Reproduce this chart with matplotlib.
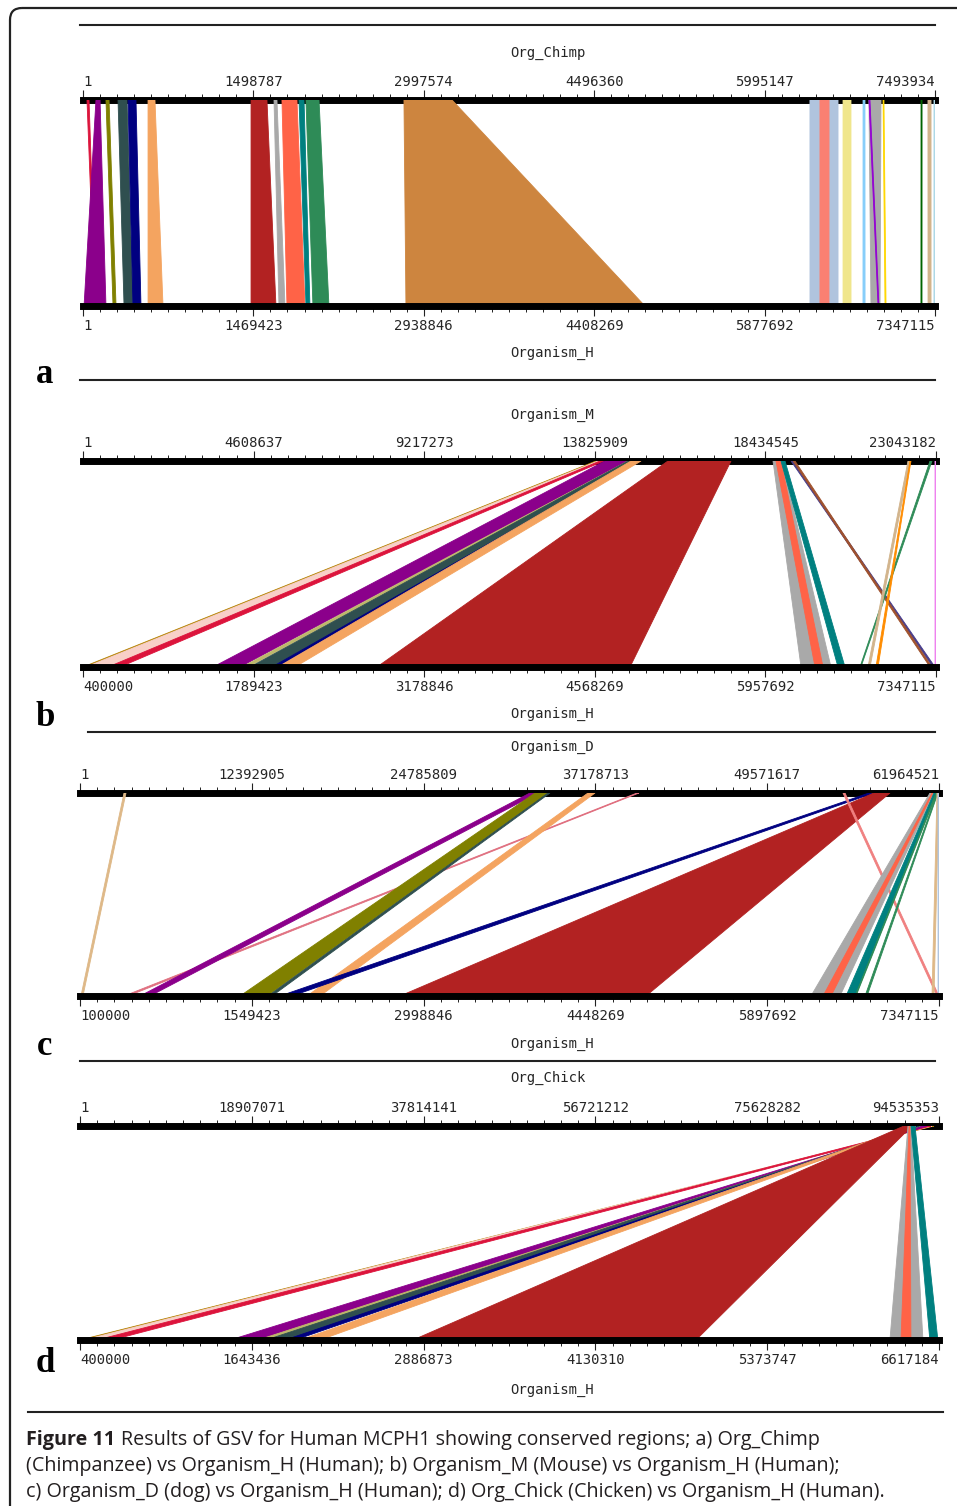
import numpy as np
import matplotlib
matplotlib.use("Agg")
import matplotlib.pyplot as plt
from matplotlib.patches import FancyBboxPatch

# Tick labels of the two sequence rulers (top organism / Organism_H)
a_top_labels = ['1', '1498787', '2997574', '4496360', '5995147', '7493934']
a_bot_labels = ['1', '1469423', '2938846', '4408269', '5877692', '7347115']
b_top_labels = ['1', '4608637', '9217273', '13825909', '18434545', '23043182']
b_bot_labels = ['400000', '1789423', '3178846', '4568269', '5957692', '7347115']
c_top_labels = ['1', '12392905', '24785809', '37178713', '49571617', '61964521']
c_bot_labels = ['100000', '1549423', '2998846', '4448269', '5897692', '7347115']
d_top_labels = ['1', '18907071', '37814141', '56721212', '75628282', '94535353']
d_bot_labels = ['400000', '1643436', '2886873', '4130310', '5373747', '6617184']

# conserved regions, positions in kb: top start/end, Organism_H start/end
a_top_s = [35, 114, 202, 308, 396, 572, 1478, 1680, 1750, 1900, 1961, 2823, 6394, 6482, 6685, 6861, 6913, 6913, 7037, 7371, 7432, 7485]
a_top_e = [53, 150, 229, 387, 466, 633, 1618, 1706, 1882, 1944, 2076, 3246, 6641, 6562, 6755, 6878, 7019, 6922, 7045, 7380, 7459, 7494]
a_bot_s = [103, 9, 259, 354, 431, 561, 1449, 1690, 1759, 1923, 1983, 2785, 6269, 6355, 6554, 6726, 6795, 6856, 6916, 7226, 7287, 7338]
a_bot_e = [112, 198, 285, 431, 500, 690, 1664, 1742, 1914, 1957, 2121, 4846, 6511, 6433, 6623, 6744, 6873, 6864, 6925, 7235, 7313, 7347]
a_colors = ['crimson', 'darkmagenta', 'olive', 'darkslategray', 'navy', 'sandybrown', 'firebrick',
            'darkgray', 'tomato', 'teal', 'seagreen', 'peru', 'lightsteelblue', 'salmon', 'khaki',
            'lightskyblue', 'darkgray', 'darkviolet', 'gold', 'darkgreen', 'tan', 'lightblue']

b_top_s = [13858, 13912, 13966, 14101, 14723, 14723, 14885, 14804, 15803, 18640, 18721, 18856, 19126, 19180, 22881, 22286, 22340, 23016]
b_top_e = [13966, 13993, 14074, 14723, 14777, 14939, 14939, 15074, 17505, 18883, 18856, 18964, 19180, 19234, 22935, 22340, 22367, 23043]
b_bot_s = [400, 424, 604, 1459, 1695, 1760, 1939, 1988, 2794, 6248, 6362, 6549, 7322, 7298, 6728, 6793, 6858, 7339]
b_bot_e = [424, 604, 701, 1679, 1744, 1939, 1980, 2127, 4855, 6492, 6427, 6606, 7339, 7314, 6736, 6810, 6875, 7347]
b_colors = ['darkgoldenrod', '#f8d0c8', 'crimson', 'darkmagenta', 'darkkhaki', 'darkslategray', 'navy',
            'sandybrown', 'firebrick', 'darkgray', 'tomato', 'teal', 'darkslateblue', 'sienna',
            'seagreen', 'tan', 'darkorange', 'violet']

c_top_s = [3174, 40179, 32460, 32821, 33759, 36645, 56914, 57275, 55039, 61315, 61459, 61603, 61748, 61820, 61820, 61892]
c_top_e = [3318, 40323, 33040, 33759, 33903, 37150, 57275, 58429, 55183, 61603, 61531, 61748, 61820, 61892, 61964, 61964]
c_bot_s = [108, 471, 606, 1450, 1686, 2015, 1787, 2800, 7330, 6267, 6369, 6563, 6639, 6723, 7288, 7339]
c_bot_e = [125, 505, 691, 1678, 1720, 2125, 1889, 4875, 7347, 6512, 6436, 6639, 6647, 6740, 7305, 7347]
c_colors = ['burlywood', '#e07080', 'darkmagenta', 'olive', 'darkslategray', 'sandybrown', 'navy',
            'firebrick', 'lightcoral', 'darkgray', 'tomato', 'teal', 'seagreen', 'seagreen',
            'burlywood', 'lightsteelblue']

d_top_s = [93765, 93545, 93325, 92445, 92334, 92004, 91894, 91564, 90684, 91124, 91234, 91454]
d_top_e = [93985, 93765, 93655, 93215, 92445, 92445, 92114, 92004, 91564, 91454, 91344, 91894]
d_bot_s = [400, 429, 523, 1486, 1688, 1746, 1884, 1992, 2810, 6262, 6342, 6551]
d_bot_e = [429, 523, 632, 1688, 1746, 1905, 1956, 2137, 4858, 6501, 6414, 6609]
d_colors = ['darkgoldenrod', '#f8d0c8', 'crimson', 'darkmagenta', 'darkkhaki', 'darkslategray', 'navy',
            'sandybrown', 'firebrick', 'darkgray', 'tomato', 'teal']

top_names = ['Org_Chimp', 'Organism_M', 'Organism_D', 'Org_Chick']
letters = ['a', 'b', 'c', 'd']

W, H = 957, 1506
plt.rcParams['font.family'] = ['DejaVu Sans Mono']
fig = plt.figure(figsize=(W / 100, H / 100), dpi=100)
fig.patch.set_facecolor('white')

# background axes in pixel units for frame and separator rules
bg = fig.add_axes([0, 0, 1, 1])
bg.set_xlim(0, W)
bg.set_ylim(H, 0)
bg.axis('off')
bg.add_patch(FancyBboxPatch((10, 8), 1000, 1560, boxstyle='round,pad=0,rounding_size=12',
                            fc='none', ec='#222222', lw=1.6))
for y, xa, xb in [(25, 80, 935), (380, 80, 935), (732, 88, 935), (1061, 80, 935), (1412, 28, 943)]:
    bg.plot([xa, xb], [y, y], color='#222222', lw=1.5)

# panel layout in pixels: x left, x right, top bar y, bottom bar y
layout = [(83, 935, 100, 306), (83, 936, 461, 667), (80, 939, 793, 996), (80, 939, 1126, 1340)]
name_y = [(53, 353), (415, 714), (747, 1044), (1078, 1390)]
letter_y = [383, 726, 1055, 1372]

panels = [
    (a_top_labels, a_bot_labels, a_top_s, a_top_e, a_bot_s, a_bot_e, a_colors),
    (b_top_labels, b_bot_labels, b_top_s, b_top_e, b_bot_s, b_bot_e, b_colors),
    (c_top_labels, c_bot_labels, c_top_s, c_top_e, c_bot_s, c_bot_e, c_colors),
    (d_top_labels, d_bot_labels, d_top_s, d_top_e, d_bot_s, d_bot_e, d_colors),
]

bar_lw = 5.0
lab_size = 10
txt_col = '#262626'
for i, (tl, bl, ts, te, bs, be, cols) in enumerate(panels):
    x0, x1, yt, yb = layout[i]
    ax = fig.add_axes([x0 / W, 1 - yb / H, (x1 - x0) / W, (yb - yt) / H])
    ax.set_facecolor('none')
    t_lo, t_hi = int(tl[0]), int(tl[-1])
    b_lo, b_hi = int(bl[0]), int(bl[-1])

    def b2t(v, t_lo=t_lo, t_hi=t_hi, b_lo=b_lo, b_hi=b_hi):
        return t_lo + (np.asarray(v, float) - b_lo) / (b_hi - b_lo) * (t_hi - t_lo)

    def t2b(v, t_lo=t_lo, t_hi=t_hi, b_lo=b_lo, b_hi=b_hi):
        return b_lo + (np.asarray(v, float) - t_lo) / (t_hi - t_lo) * (b_hi - b_lo)

    ax.set_xlim(b_lo, b_hi)
    ax.set_ylim(0, 1)

    # links between the two sequences
    for s1, e1, s2, e2, c in zip(ts, te, bs, be, cols):
        xs = [t2b(s1 * 1000), t2b(e1 * 1000), e2 * 1000, s2 * 1000]
        ax.fill(xs, [1, 1, 0, 0], color=c, lw=0.6, ec=c, zorder=2)

    for sp in ['left', 'right', 'top']:
        ax.spines[sp].set_visible(False)
    ax.spines['bottom'].set_linewidth(bar_lw)
    ax.spines['bottom'].set_zorder(5)
    ax.yaxis.set_visible(False)
    ax.set_xticks([int(v) for v in bl], labels=bl)
    ax.set_xticks(np.linspace(b_lo, b_hi, 51), minor=True)
    ax.tick_params(axis='x', which='major', direction='out', length=7.0, width=0.8,
                   pad=2.5, labelsize=lab_size, color='#222222', labelcolor=txt_col)
    ax.tick_params(axis='x', which='minor', direction='out', length=4.6, width=0.7, color='#222222')

    sec = ax.secondary_xaxis('top', functions=(b2t, t2b))
    for sp in sec.spines.values():
        sp.set_linewidth(bar_lw)
    sec.set_xticks([int(v) for v in tl], labels=tl)
    sec.set_xticks(np.linspace(t_lo, t_hi, 51), minor=True)
    sec.tick_params(axis='x', which='major', direction='out', length=7.0, width=0.8,
                    pad=1.0, labelsize=lab_size, color='#222222', labelcolor=txt_col)
    sec.tick_params(axis='x', which='minor', direction='out', length=4.6, width=0.7, color='#222222')

    for labs in (ax.get_xticklabels(), sec.get_xticklabels()):
        labs[0].set_ha('left')
        labs[-1].set_ha('right')

    fig.text(510 / W, 1 - name_y[i][0] / H, top_names[i], ha='left', va='center',
             fontsize=lab_size, color=txt_col)
    fig.text(510 / W, 1 - name_y[i][1] / H, 'Organism_H', ha='left', va='center',
             fontsize=lab_size, color=txt_col)
    fig.text(45 / W, 1 - letter_y[i] / H, letters[i], ha='center', va='baseline',
             fontsize=25, fontweight='bold', family=['Liberation Serif', 'DejaVu Serif'])

# caption
cap_fam = ['Open Sans', 'DejaVu Sans']
cap_size = 14.2
renderer = fig.canvas.get_renderer()
t0 = fig.text(26 / W, 1 - 1445 / H, 'Figure 11', ha='left', va='baseline', fontsize=cap_size,
              fontweight='bold', family=cap_fam, color='#231f20')
bb = t0.get_window_extent(renderer)
fig.text((bb.x1 + 6) / W, 1 - 1445 / H,
         'Results of GSV for Human MCPH1 showing conserved regions; a) Org_Chimp',
         ha='left', va='baseline', fontsize=cap_size, family=cap_fam, color='#231f20')
fig.text(26 / W, 1 - 1471 / H, '(Chimpanzee) vs Organism_H (Human); b) Organism_M (Mouse) vs Organism_H (Human);',
         ha='left', va='baseline', fontsize=cap_size, family=cap_fam, color='#231f20')
fig.text(26 / W, 1 - 1497 / H, 'c) Organism_D (dog) vs Organism_H (Human); d) Org_Chick (Chicken) vs Organism_H (Human).',
         ha='left', va='baseline', fontsize=cap_size, family=cap_fam, color='#231f20')

fig.savefig('out.png', dpi=100, facecolor='white')
